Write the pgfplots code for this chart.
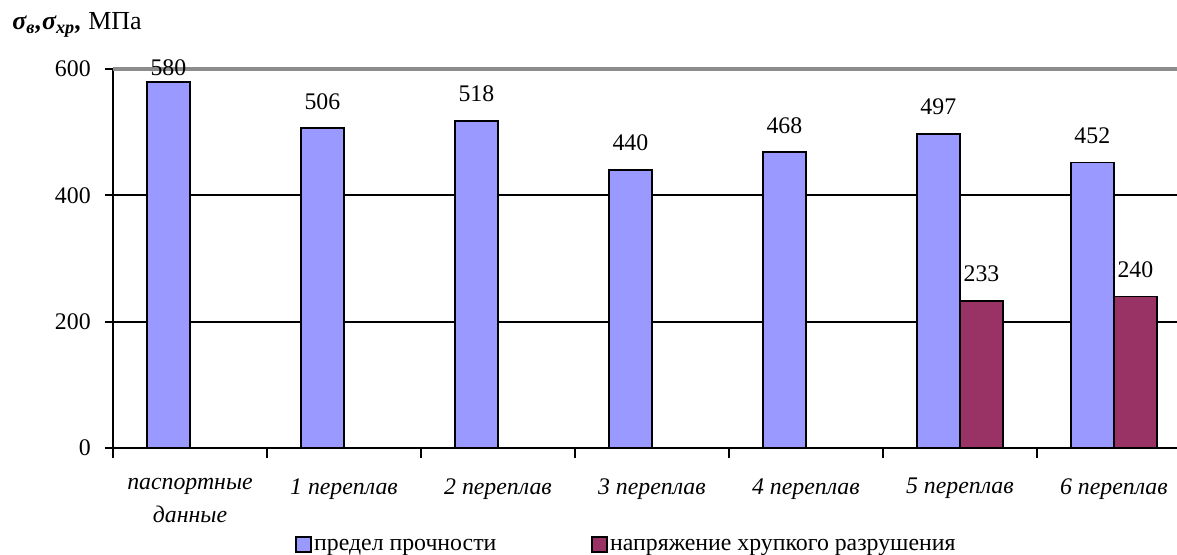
\documentclass[border=0pt]{standalone}
\usepackage{fontspec}
\setmainfont{Liberation Serif}
\usepackage{pgfplots}
\pgfplotsset{compat=1.18}
\definecolor{barblue}{HTML}{9999FF}
\definecolor{barred}{HTML}{993366}
\definecolor{topline}{HTML}{8C8C8C}
\newcommand{\chartfont}{\rmfamily\fontsize{11.9}{13.5}\selectfont}

\begin{document}
\chartfont
\begin{tikzpicture}[font=\chartfont]
\path[use as bounding box] (-56.5pt,-53pt) rectangle (532pt,224pt);
\begin{axis}[
  at={(0,0)}, anchor=south west,
  scale only axis, width=532pt, height=189.5pt,
  xmin=-0.5, xmax=6.41, ymin=0, ymax=600,
  clip=false,
  axis x line*=bottom, axis y line*=left,
  axis line style={-, black, line width=0.9pt},
  ytick={0,200,400,600},
  ymajorgrids, grid style={black, line width=0.9pt},
  tick style={black, line width=0.9pt},
  tick align=outside,
  major tick length=4pt,
  xtick={0,...,6},
  xticklabels={{паспортные\\[3pt]данные},{1 переплав},{2 переплав},{3 переплав},{4 переплав},{5 переплав},{6 переплав}},
  x tick style={draw=none},
  minor xtick={-0.5,0.5,...,5.5},
  minor x tick style={draw=black, line width=0.9pt},
  minor tick length=5pt,
  tick label style={font=\chartfont},
  xticklabel style={font=\chartfont\itshape, align=center, yshift=-7pt},
  yticklabel style={xshift=-3pt},
  /pgf/number format/assume math mode=true,
  ybar, bar width=0.28,
  every node near coord/.append style={font=\chartfont, anchor=south, inner sep=0pt, yshift=9pt},
  legend style={at={(axis description cs:0.1706,-0.256)}, anchor=west,
    draw=none, fill=none, legend columns=2, inner sep=0pt,
    font=\chartfont,
    /tikz/every even column/.append style={column sep=46pt},
    nodes={inner sep=0pt, inner xsep=1.25pt}},
  legend image code/.code={\draw[#1, draw=black, line width=0.9pt] (0pt,-3pt) rectangle (7.5pt,4.5pt);},
]
% предел прочности
\addplot[fill=barblue, draw=black, line width=0.9pt, bar shift=-0.14, nodes near coords]
  coordinates {(1,506) (2,518) (3,440) (4,468) (5,497) (6,452)};
\addlegendentry{предел прочности}
% напряжение хрупкого разрушения
\addplot[fill=barred, draw=black, line width=0.9pt, bar shift=0.14, nodes near coords]
  coordinates {(5,233) (6,240)};
\addlegendentry{напряжение хрупкого разрушения}
% паспортные данные, подпись прижата к столбцу
\addplot[fill=barblue, draw=black, line width=0.9pt, bar shift=-0.14, forget plot,
  nodes near coords, every node near coord/.append style={yshift=-6.5pt}]
  coordinates {(0,580)};
\draw[topline, line width=1.6pt] (rel axis cs:0,1) -- (rel axis cs:1,1);
\end{axis}
\node[anchor=west, inner sep=0pt] at (-50.5pt,211.5pt)
  {\fontsize{13}{15}\selectfont{\bfseries\itshape σ\textsubscript{в},σ\textsubscript{хр},} МПа};
\end{tikzpicture}
\end{document}
